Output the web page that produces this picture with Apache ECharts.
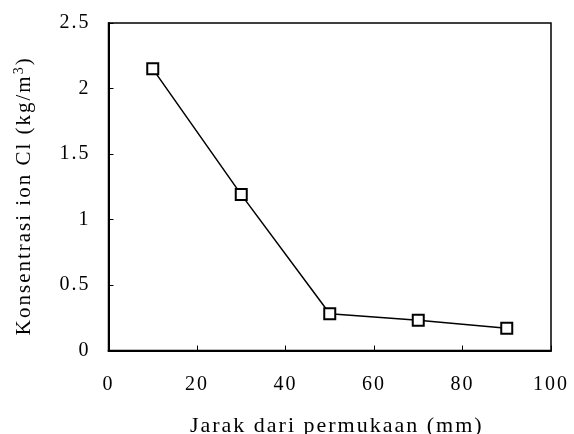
<!DOCTYPE html>
<html>
<head>
<meta charset="utf-8">
<script src="https://cdn.jsdelivr.net/npm/echarts@6/dist/echarts.min.js"></script>
<style>
  html, body { margin: 0; padding: 0; background: #fff; overflow: hidden; }
  #chart { width: 574px; height: 434px; }
</style>
</head>
<body>
<div id="chart"></div>
<script>
// Distance from surface (mm) and chloride ion concentration (kg/m3)
const jarak = [10, 30, 50, 70, 90];
const konsentrasi = [2.15, 1.19, 0.28, 0.23, 0.17];

const xTicks = [0, 20, 40, 60, 80, 100];
const yTicks = [0, 0.5, 1, 1.5, 2, 2.5];

const FONT = '"Liberation Serif", serif';
const TRACKING = 2; // px added after every glyph

// Widely tracked lettering: glyphs are measured and drawn one by one with extra spacing
const measureCtx = document.createElement('canvas').getContext('2d');
function trackedWidth(ctx, text) {
  let w = 0;
  for (const ch of String(text)) w += ctx.measureText(ch).width + TRACKING;
  return w;
}
if (echarts.setPlatformAPI) {
  echarts.setPlatformAPI({
    measureText: function (text, font) {
      measureCtx.font = font || '12px sans-serif';
      return { width: trackedWidth(measureCtx, text) };
    }
  });
}
const baseFillText = CanvasRenderingContext2D.prototype.fillText;
CanvasRenderingContext2D.prototype.fillText = function (text, x, y) {
  const str = String(text);
  const total = trackedWidth(this, str);
  const align = this.textAlign;
  let cx = x;
  if (align === 'center') cx = x - total / 2;
  else if (align === 'right' || align === 'end') cx = x - total;
  this.textAlign = 'left';
  for (const ch of str) {
    baseFillText.call(this, ch, cx, y);
    cx += this.measureText(ch).width + TRACKING;
  }
  this.textAlign = align;
};

const chart = echarts.init(document.getElementById('chart'), null, { renderer: 'canvas' });

chart.setOption({
  animation: false,
  backgroundColor: '#fff',
  grid: {
    left: 108.5, right: 23, top: 23, bottom: 83.5,
    outerBoundsMode: 'none', containLabel: false,
    show: true, borderColor: '#000', borderWidth: 1.5, backgroundColor: 'transparent'
  },
  xAxis: {
    type: 'value',
    min: xTicks[0], max: xTicks[xTicks.length - 1], interval: 20,
    name: 'Jarak dari permukaan (mm)',
    nameLocation: 'middle', nameGap: 64,
    nameTextStyle: { fontFamily: FONT, fontSize: 22, color: '#000', padding: [0, 0, 0, 14] },
    axisLine: { show: true, lineStyle: { color: '#000', width: 2 } },
    axisTick: { show: true, inside: true, length: 5, lineStyle: { color: '#000', width: 1 } },
    axisLabel: { fontFamily: FONT, fontSize: 20, color: '#000', margin: 23 },
    splitLine: { show: false }
  },
  yAxis: {
    type: 'value',
    min: yTicks[0], max: yTicks[yTicks.length - 1], interval: 0.5,
    name: '{n|Konsentrasi ion Cl (kg/m}{s|3}{n|)}',
    nameLocation: 'middle', nameGap: 71, nameRotate: 90,
    nameTextStyle: {
      fontFamily: FONT, fontSize: 21, color: '#000',
      padding: [0, 18, 0, 0],
      rich: {
        n: { fontFamily: FONT, fontSize: 21, color: '#000' },
        s: { fontFamily: FONT, fontSize: 14, color: '#000', verticalAlign: 'top', padding: [0, 0, 10, 0] }
      }
    },
    axisLine: { show: true, lineStyle: { color: '#000', width: 2 } },
    axisTick: { show: true, inside: true, length: 5, lineStyle: { color: '#000', width: 1 } },
    axisLabel: { fontFamily: FONT, fontSize: 20, color: '#000', margin: 18 },
    splitLine: { show: false }
  },
  series: [{
    type: 'line',
    data: jarak.map((x, i) => [x, konsentrasi[i]]),
    symbol: 'rect',
    symbolSize: 11,
    itemStyle: { color: '#fff', borderColor: '#000', borderWidth: 2 },
    lineStyle: { color: '#000', width: 1.5 }
  }]
});
</script>
</body>
</html>
